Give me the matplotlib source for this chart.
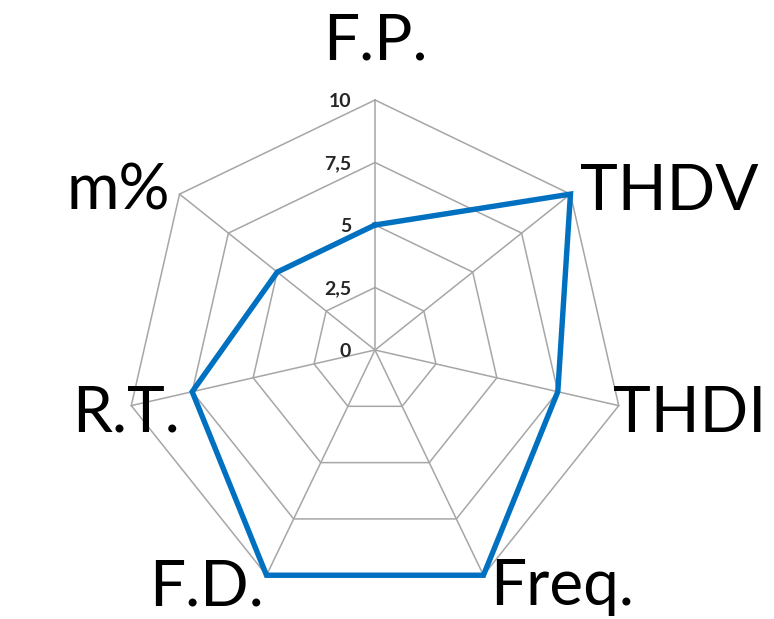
import numpy as np
import matplotlib
matplotlib.use("Agg")
import matplotlib.pyplot as plt

categories = ["F.P.", "THDV", "THDI", "Freq.", "F.D.", "R.T.", "m%"]
values = [5, 10, 7.5, 10, 10, 7.5, 5]
tick_values = [0, 2.5, 5, 7.5, 10]
tick_labels = ["0", "2,5", "5", "7,5", "10"]

FONT = "Lato"
fig = plt.figure(figsize=(7.74, 6.19), dpi=100)
ax = fig.add_axes([0, 0, 1, 1])
ax.set_xlim(-375 / 25, (774 - 375) / 25)
ax.set_ylim(-(619 - 350) / 25, 350 / 25)
ax.axis("off")

n = len(categories)
ang = np.pi / 2 - 2 * np.pi * np.arange(n) / n
cx, cy = np.cos(ang), np.sin(ang)

grid_color = "#a6a6a6"
for t in tick_values[1:]:
    ax.plot(np.append(cx, cx[0]) * t, np.append(cy, cy[0]) * t, color=grid_color, lw=1.1, zorder=1)
for i in range(n):
    ax.plot([0, cx[i] * tick_values[-1]], [0, cy[i] * tick_values[-1]], color=grid_color, lw=1.1, zorder=1)

v = np.array(values)
ax.plot(np.append(cx * v, cx[0] * v[0]), np.append(cy * v, cy[0] * v[0]),
        color="#0070C0", lw=3.9, solid_joinstyle="miter", zorder=3)

for t, lab in zip(tick_values, tick_labels):
    ax.text(-0.95, t - 0.05, lab, ha="right", va="center", fontsize=14,
            fontfamily=FONT, fontweight="bold", color="#262626", zorder=4)

label_pos = [
    (0.0, 11.6, "center"),
    (8.2, 5.6, "left"),
    (9.5, -3.28, "left"),
    (4.6, -10.2, "left"),
    (-4.45, -10.2, "right"),
    (-7.8, -3.28, "right"),
    (-8.2, 5.6, "right"),
]
for lab, (x, y, ha) in zip(categories, label_pos):
    ax.text(x, y, lab, ha=ha, va="baseline", fontsize=46, fontfamily=FONT, color="black")

fig.savefig("out.png", dpi=100)
